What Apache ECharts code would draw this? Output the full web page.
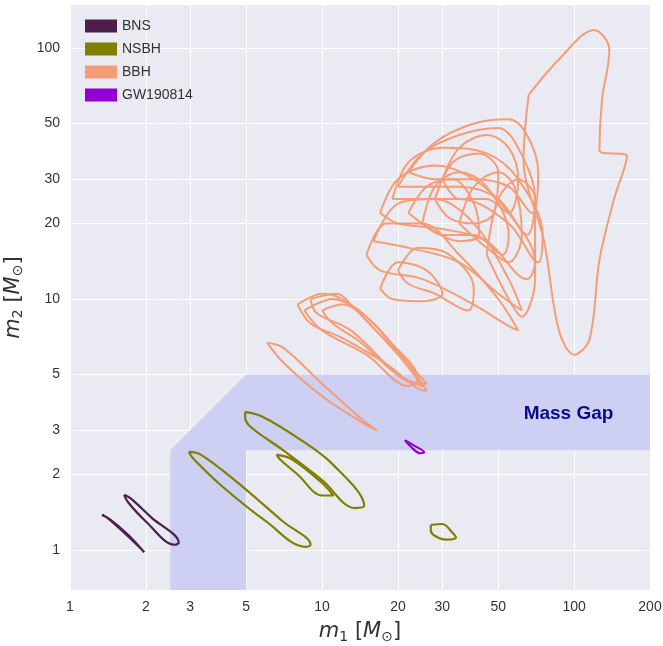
<!DOCTYPE html>
<html><head><meta charset="utf-8">
<script src="https://cdn.jsdelivr.net/npm/echarts@6/dist/echarts.min.js"></script>
<style>html,body{margin:0;padding:0;background:#fff}#c{width:663px;height:646px}</style>
</head><body><div id="c"></div>
<script>
const xTicks = [1,2,3,5,10,20,30,50,100,200];
const yTicks = [1,2,3,5,10,20,30,50,100];
const massGap = [[2.5,0.694],[2.5,2.5],[5,5],[200,5],[200,2.5],[5,2.5],[5,0.694]];
const bns = [
  [[1.34,1.38],[1.45,1.32],[1.7,1.15],[1.97,0.98],[1.9,1.02],[1.6,1.2],[1.4,1.35]],
  [[1.64,1.66],[1.75,1.6],[2.1,1.35],[2.7,1.07],[2.6,1.05],[2.0,1.3],[1.7,1.55]]
];
const nsbh = [
  [[2.96,2.46],[3.3,2.4],[4.5,1.9],[7,1.3],[9,1.05],[8.6,1.03],[6,1.3],[4,1.8],[3.1,2.3]],
  [[4.95,3.55],[5.8,3.4],[8,2.8],[11,2.2],[14.7,1.5],[13.5,1.47],[10,1.9],[7,2.5],[5.2,3.1],[4.95,3.4]],
  [[6.6,2.4],[7.6,2.3],[10,1.85],[11.1,1.65],[10,1.65],[8,2.0],[6.8,2.3]],
  [[27,1.26],[30,1.27],[33,1.17],[34,1.12],[31,1.1],[28,1.14],[27,1.2]]
];
const gw190814 = [[21.3,2.74],[23,2.62],[25.4,2.45],[24.5,2.43],[22.5,2.58]];
const bbh = [
  [[66,65],[87,90],[120,118],[138,98],[129,62],[126,39],[162,37],[144,25],[126,14.3],[115,6.9],[100,6.0],[87,7.5],[76,17],[63,36]],
  [[6.05,6.7],[7,6.4],[10,4.6],[14,3.4],[16.5,3.0],[15,3.15],[10,4.1],[7,5.6]],
  [[8,9.5],[10,10.5],[12,10],[16,8],[22,5.5],[26,4.3],[24,4.4],[18,5.5],[12,7],[9,8]],
  [[8.5,9],[11,10],[14,9],[18,7],[24,4.8],[22,4.5],[15,6],[10,7.5]],
  [[9,10],[11.5,10.5],[13,9.5],[20,6],[25,4.5],[20,5],[13,7.5],[9.5,8.8]],
  [[10,9],[12,9.5],[17,7.2],[26,4.6],[21,4.8],[14,6.8],[11,8]],
  [[15,15],[18,20],[25,20],[35,15],[50,10],[60,7.5],[55,7.8],[40,9.5],[25,12],[17,13]],
  [[16,17],[20,24],[28,25],[40,20],[55,12],[62,9],[50,10.5],[35,14],[22,16]],
  [[17,22],[20,30],[28,34],[40,30],[55,22],[70,14],[65,12],[45,17],[30,19],[20,20]],
  [[19,25],[22,35],[30,40],[45,38],[60,30],[75,18],[72,14],[55,20],[35,25],[24,25]],
  [[20,28],[25,38],[35,45],[50,48],[60,40],[70,25],[65,18],[50,25],[35,28]],
  [[22,32],[28,42],[40,50],[55,52],[65,45],[72,32],[68,22],[55,28],[40,30],[28,30]],
  [[25,20],[28,28],[35,32],[45,28],[55,18],[52,15],[40,18],[30,18]],
  [[30,30],[35,40],[45,45],[55,40],[60,30],[55,22],[45,25],[35,25]],
  [[22,22],[26,28],[33,30],[40,24],[42,18],[35,17],[27,19]],
  [[28,25],[33,35],[42,38],[50,32],[48,22],[40,20],[32,21]],
  [[35,20],[40,28],[50,32],[58,28],[62,18],[55,14],[45,16]],
  [[45,15],[50,25],[60,30],[70,25],[70,12],[62,8.5],[55,10]],
  [[20,13],[24,16],[32,15],[40,11],[38,9],[28,10.5],[22,11.5]],
  [[17,11],[20,14],[26,13],[30,10.5],[25,9.8],[19,10]]
];
const gapLabel = {text:'Mass Gap', pos:[95,3.5]};

const L = v => Math.log10(v);
const toLog = pts => { const a = pts.map(p=>[L(p[0]),L(p[1])]); a.push(a[0]); return a; };
function loops(name, color, list, width){
  return list.map(pts => ({
    type:'line', name, data: toLog(pts), smooth:0.35, showSymbol:false, symbol:'none',
    lineStyle:{color, width}, itemStyle:{color}, z:3, silent:true
  }));
}
const series = [
  {type:'custom', silent:true, z:1, data:[[0,0]], clip:true,
   renderItem:(params, api)=>({type:'group', children:[
     {type:'polygon', shape:{points: massGap.map(p=>api.coord([L(p[0]),L(p[1])]))},
      style:{fill:'#CDD0F2'}},
     {type:'text', x: api.coord([L(gapLabel.pos[0]),L(gapLabel.pos[1])])[0], y: api.coord([L(gapLabel.pos[0]),L(gapLabel.pos[1])])[1],
      style:{text:gapLabel.text, fill:'#0A0A8A', font:'bold 19px "Liberation Sans", Arial, sans-serif', align:'center', verticalAlign:'middle'}}
   ]})},
  ...loops('BNS','#4B1E4B',bns,2.2),
  ...loops('NSBH','#7F7F00',nsbh,2.2),
  ...loops('BBH','#F49D77',bbh,2),
  ...loops('GW190814','#9400D3',[gw190814],2.2)
];
const chart = echarts.init(document.getElementById('c'));
const axisCommon = {
  type:'value', axisLine:{show:false},
  axisTick:{show:false},
  splitLine:{show:true, lineStyle:{color:'#fff', width:1}},
  axisLabel:{color:'#333', fontSize:14, fontFamily:'Liberation Sans', formatter:v=>String(Math.round(Math.pow(10,v)))},
  nameLocation:'middle',
  nameTextStyle:{fontSize:21, color:'#333', fontFamily:'DejaVu Sans', rich:{i:{fontStyle:'italic',fontSize:21,fontFamily:'DejaVu Sans'}, s:{fontSize:14,verticalAlign:'bottom',padding:[10,0,0,0]}}}
};
chart.setOption({
  animation:false,
  backgroundColor:'#fff',
  grid:{left:70, right:13, top:5, bottom:56, outerBoundsMode:'none', containLabel:false, show:true, backgroundColor:'#EAEAF2', borderWidth:0},
  legend:{orient:'vertical', left:80, top:14, icon:'rect', itemWidth:32, itemHeight:13, itemGap:9,
    data:['BNS','NSBH','BBH','GW190814'], textStyle:{fontSize:14, color:'#333', fontFamily:'Liberation Sans'}},
  xAxis:Object.assign({}, axisCommon, {min:0, max:L(200),
    axisTick:{show:false, customValues:xTicks.map(L)},
    axisLabel:Object.assign({}, axisCommon.axisLabel, {customValues:xTicks.map(L), margin:10}),
    name:'{i|m}{s|1} [{i|M}{s|⊙}]', nameGap:30}),
  yAxis:Object.assign({}, axisCommon, {min:-0.159, max:2.171,
    axisTick:{show:false, customValues:yTicks.map(L)},
    axisLabel:Object.assign({}, axisCommon.axisLabel, {customValues:yTicks.map(L), margin:10}),
    name:'{i|m}{s|2} [{i|M}{s|⊙}]', nameGap:40}),
  series
});
</script></body></html>
